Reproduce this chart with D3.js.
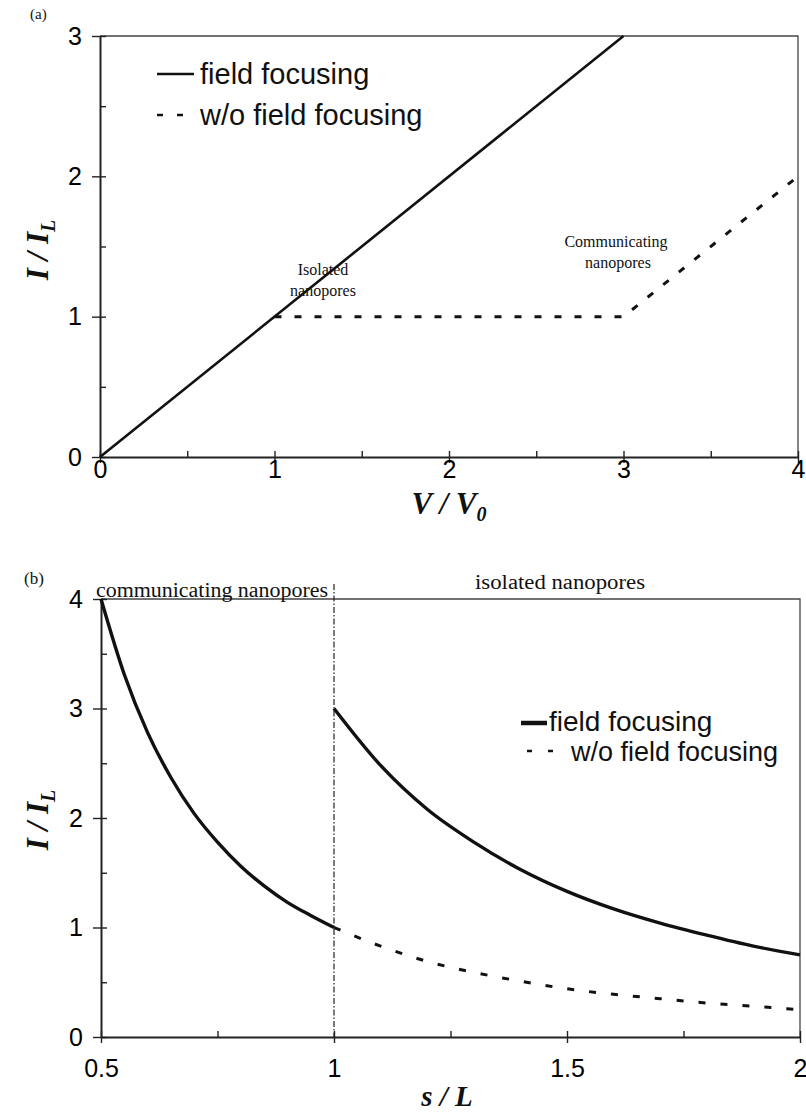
<!DOCTYPE html>
<html>
<head>
<meta charset="utf-8">
<script src="https://cdn.jsdelivr.net/npm/d3@7"></script>
<style>
  html, body { margin: 0; padding: 0; background: #fff; }
  svg { display: block; }
  .tick text { font-family: "Liberation Sans", Arial, sans-serif; font-size: 25px; fill: #000; }
  .ann { font-family: "Liberation Serif", "Times New Roman", serif; fill: #111; }
  .axt { font-family: "Liberation Serif", "Times New Roman", serif; font-weight: bold; font-style: italic; fill: #111; }
  .leg { font-family: "Liberation Sans", Arial, sans-serif; fill: #111; }
</style>
</head>
<body>
<script>
// ---- Panel (a): current vs. applied voltage ----
const aXTicks = [0, 1, 2, 3, 4];
const aYTicks = [0, 1, 2, 3];
const aXMinor = [0.5, 1.5, 2.5, 3.5];
const aYMinor = [0.5, 1.5, 2.5];
const aFocusV = [0, 3];
const aFocusI = [0, 3];
const aNoFocusV = [1, 3, 4];
const aNoFocusI = [1, 1, 2];

// ---- Panel (b): current vs. spacing ----
const bXTicks = [0.5, 1, 1.5, 2];
const bYTicks = [0, 1, 2, 3, 4];
const bXMinor = [0.75, 1.25, 1.75];
const bYMinor = [0.5, 1.5, 2.5, 3.5];
const bCommS = [0.5, 0.55, 0.6, 0.65, 0.7, 0.75, 0.8, 0.85, 0.9, 0.95, 1.0];
const bCommI = [4.0, 3.31, 2.78, 2.37, 2.04, 1.78, 1.56, 1.38, 1.23, 1.11, 1.0];
const bIsoS = [1.0, 1.1, 1.2, 1.3, 1.4, 1.5, 1.6, 1.7, 1.8, 1.9, 2.0];
const bIsoI = [3.0, 2.48, 2.08, 1.78, 1.53, 1.33, 1.17, 1.04, 0.93, 0.83, 0.75];
const bNoFocusS = [1.0, 1.1, 1.2, 1.3, 1.4, 1.5, 1.6, 1.7, 1.8, 1.9, 2.0];
const bNoFocusI = [1.0, 0.83, 0.69, 0.59, 0.51, 0.44, 0.39, 0.35, 0.31, 0.28, 0.25];
const bDivider = 1;

const legendLabels = ["field focusing", "w/o field focusing"];

const W = 806, H = 1114;
const svg = d3.select("body").append("svg").attr("width", W).attr("height", H);

function zip(xs, ys) { return xs.map((x, i) => [x, ys[i]]); }

function frame(g, x, y, xt, yt, xm, ym, xFmt, xLabelY) {
  const [x0, x1] = x.range();
  const [y0, y1] = y.range();
  // top and right border
  g.append("path")
    .attr("d", `M${x0},${y1}H${x1}V${y0}`)
    .attr("fill", "none").attr("stroke", "#444").attr("stroke-width", 1.3);
  // inward ticks (major + minor)
  g.append("g").attr("transform", `translate(0,${y0})`)
    .call(d3.axisBottom(x).tickValues(xt.concat(xm)).tickSize(-6).tickFormat(""))
    .call(s => s.select(".domain").remove())
    .call(s => s.selectAll("line").attr("stroke", "#222").attr("stroke-width", 1.4));
  g.append("g").attr("transform", `translate(${x0},0)`)
    .call(d3.axisLeft(y).tickValues(yt.concat(ym)).tickSize(-6).tickFormat(""))
    .call(s => s.select(".domain").remove())
    .call(s => s.selectAll("line").attr("stroke", "#222").attr("stroke-width", 1.4));
  // outward major ticks with labels
  g.append("g").attr("transform", `translate(0,${y0})`)
    .call(d3.axisBottom(x).tickValues(xt).tickSizeInner(6).tickSizeOuter(0).tickFormat(xFmt))
    .call(s => s.select(".domain").attr("stroke", "#222").attr("stroke-width", 2))
    .call(s => s.selectAll("line").attr("stroke", "#222").attr("stroke-width", 1.4))
    .call(s => s.selectAll("text").attr("y", xLabelY));
  g.append("g").attr("transform", `translate(${x0},0)`)
    .call(d3.axisLeft(y).tickValues(yt).tickSizeInner(8).tickSizeOuter(0).tickPadding(10).tickFormat(d3.format("d")))
    .call(s => s.select(".domain").attr("stroke", "#222").attr("stroke-width", 2))
    .call(s => s.selectAll("line").attr("stroke", "#222").attr("stroke-width", 1.4));
  g.selectAll(".tick text").attr("font-family", null).attr("font-size", null);
}

function yTitle(g, cx, cy) {
  const t = g.append("text").attr("class", "axt")
    .attr("transform", `translate(${cx},${cy}) rotate(-90)`)
    .attr("text-anchor", "middle").attr("font-size", 31);
  t.append("tspan").text("I / I");
  t.append("tspan").attr("dy", 7).attr("font-size", 20).text("L");
}

// ================= Panel (a) =================
const ga = svg.append("g");
const xa = d3.scaleLinear().domain([0, 4]).range([100, 798]);
const ya = d3.scaleLinear().domain([0, 3]).range([457, 36]);
frame(ga, xa, ya, aXTicks, aYTicks, aXMinor, aYMinor, d3.format("d"), 3);

const lineA = d3.line().x(d => xa(d[0])).y(d => ya(d[1]));
ga.append("path").datum(zip(aFocusV, aFocusI)).attr("d", lineA)
  .attr("fill", "none").attr("stroke", "#111").attr("stroke-width", 2.6);
ga.append("path").datum(zip(aNoFocusV, aNoFocusI)).attr("d", lineA)
  .attr("fill", "none").attr("stroke", "#111").attr("stroke-width", 3)
  .attr("stroke-dasharray", "7,13");

ga.append("text").attr("x", 30).attr("y", 19).attr("class", "ann").attr("font-size", 15).text("(a)");

ga.append("text").attr("class", "ann").attr("font-size", 16).attr("text-anchor", "middle")
  .attr("x", 323).attr("y", 275).text("Isolated");
ga.append("text").attr("class", "ann").attr("font-size", 16).attr("text-anchor", "middle")
  .attr("x", 323).attr("y", 296).text("nanopores");
ga.append("text").attr("class", "ann").attr("font-size", 16).attr("text-anchor", "middle")
  .attr("x", 616).attr("y", 247).text("Communicating");
ga.append("text").attr("class", "ann").attr("font-size", 16).attr("text-anchor", "middle")
  .attr("x", 618).attr("y", 268).text("nanopores");

// legend (a)
ga.append("line").attr("x1", 157).attr("x2", 194).attr("y1", 74).attr("y2", 74)
  .attr("stroke", "#111").attr("stroke-width", 2.6);
ga.append("text").attr("class", "leg").attr("font-size", 29).attr("x", 200).attr("y", 84).text(legendLabels[0]);
ga.append("line").attr("x1", 157).attr("x2", 190).attr("y1", 115).attr("y2", 115)
  .attr("stroke", "#111").attr("stroke-width", 2.6).attr("stroke-dasharray", "6,14");
ga.append("text").attr("class", "leg").attr("font-size", 29).attr("x", 200).attr("y", 125).text(legendLabels[1]);

yTitle(ga, 48, 250);
const va = ga.append("text").attr("class", "axt").attr("font-size", 31)
  .attr("text-anchor", "middle").attr("x", 449).attr("y", 514);
va.append("tspan").text("V / V");
va.append("tspan").attr("dy", 7).attr("font-size", 20).text("0");

// ================= Panel (b) =================
const gb = svg.append("g");
const xb = d3.scaleLinear().domain([0.5, 2]).range([101, 800]);
const yb = d3.scaleLinear().domain([0, 4]).range([1037, 599]);
frame(gb, xb, yb, bXTicks, bYTicks, bXMinor, bYMinor, d => d3.format("")(d), 22);

// regime divider
gb.append("line").attr("x1", xb(bDivider)).attr("x2", xb(bDivider))
  .attr("y1", 584).attr("y2", yb(0))
  .attr("stroke", "#222").attr("stroke-width", 1.2).attr("stroke-dasharray", "6,2,1.5,2");

const lineB = d3.line().curve(d3.curveMonotoneX).x(d => xb(d[0])).y(d => yb(d[1]));
gb.append("path").datum(zip(bCommS, bCommI)).attr("d", lineB)
  .attr("fill", "none").attr("stroke", "#111").attr("stroke-width", 3.4);
gb.append("path").datum(zip(bIsoS, bIsoI)).attr("d", lineB)
  .attr("fill", "none").attr("stroke", "#111").attr("stroke-width", 3.4);
gb.append("path").datum(zip(bNoFocusS, bNoFocusI)).attr("d", lineB)
  .attr("fill", "none").attr("stroke", "#111").attr("stroke-width", 3)
  .attr("stroke-dasharray", "7,15");

gb.append("text").attr("x", 24).attr("y", 584).attr("class", "ann").attr("font-size", 17).text("(b)");
gb.append("text").attr("class", "ann").attr("font-size", 20).attr("x", 96).attr("y", 597)
  .attr("textLength", 232).attr("lengthAdjust", "spacingAndGlyphs").text("communicating nanopores");
gb.append("text").attr("class", "ann").attr("font-size", 20).attr("x", 475).attr("y", 589)
  .attr("textLength", 170).attr("lengthAdjust", "spacingAndGlyphs").text("isolated nanopores");

// legend (b)
gb.append("line").attr("x1", 521).attr("x2", 547).attr("y1", 723).attr("y2", 723)
  .attr("stroke", "#111").attr("stroke-width", 4.5);
gb.append("text").attr("class", "leg").attr("font-size", 28).attr("x", 549).attr("y", 731).text(legendLabels[0]);
gb.append("line").attr("x1", 527).attr("x2", 553).attr("y1", 751).attr("y2", 751)
  .attr("stroke", "#111").attr("stroke-width", 2.6).attr("stroke-dasharray", "5,16");
gb.append("text").attr("class", "leg").attr("font-size", 27).attr("x", 571).attr("y", 761).text(legendLabels[1]);

yTitle(gb, 48, 820);
gb.append("text").attr("class", "axt").attr("font-size", 29)
  .attr("text-anchor", "middle").attr("x", 447).attr("y", 1106).text("s / L");
</script>
</body>
</html>
